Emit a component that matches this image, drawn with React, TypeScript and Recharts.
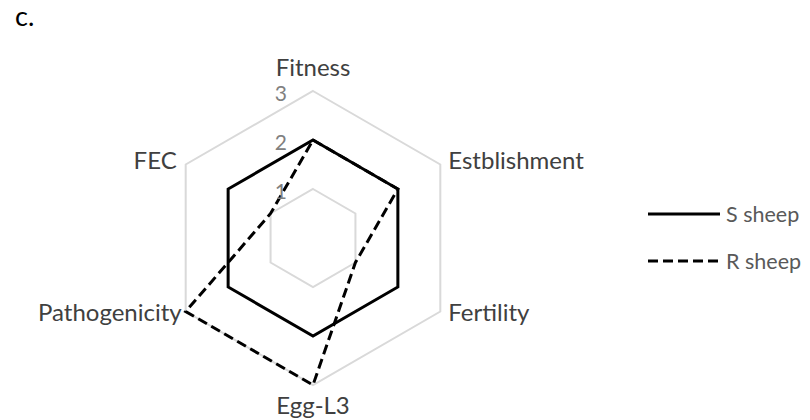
import { Legend, PolarAngleAxis, PolarGrid, PolarRadiusAxis, Radar, RadarChart } from 'recharts';

const traits = ['Fitness', 'Estblishment', 'Fertility', 'Egg-L3', 'Pathogenicity', 'FEC'];
const sSheep = [2, 2, 2, 2, 2, 2];
const rSheep = [2, 2, 1, 3, 3, 1];
const radiusTicks = [0, 1, 2, 3];

const data = traits.map((t, i) => ({ axis: t, S: sSheep[i], R: rSheep[i] }));

const CX = 305;
const CY = 230;
const R = 147;
const FONT = 'Lato, "Open Sans", sans-serif';
const FS = 24;

// label offsets from each hexagon corner
const labelPos: Record<string, { dx: number; dy: number; anchor: 'start' | 'middle' | 'end' }> = {
  Fitness: { dx: 0, dy: -15, anchor: 'middle' },
  Estblishment: { dx: 8, dy: 4, anchor: 'start' },
  Fertility: { dx: 8, dy: 9, anchor: 'start' },
  'Egg-L3': { dx: 0, dy: 29, anchor: 'middle' },
  Pathogenicity: { dx: -4, dy: 9, anchor: 'end' },
  FEC: { dx: -9, dy: 4, anchor: 'end' },
};

const AngleTick = (props: any) => {
  const { payload } = props;
  const a = (payload.coordinate * Math.PI) / 180;
  const vx = CX + R * Math.cos(a);
  const vy = CY - R * Math.sin(a);
  const p = labelPos[payload.value];
  return (
    <text x={vx + p.dx} y={vy + p.dy} textAnchor={p.anchor} fill="#404040" fontSize={FS} fontFamily={FONT}>
      {payload.value}
    </text>
  );
};

const RadiusTick = (props: any) => {
  const { x, y, payload } = props;
  if (payload.value === 0) return null;
  return (
    <text x={x - 26} y={y + 9.5} textAnchor="end" fill="#808080" fontSize={21} fontFamily={FONT}>
      {payload.value}
    </text>
  );
};

const legendItems = [
  { name: 'S sheep', dash: undefined },
  { name: 'R sheep', dash: '10 5' },
];

const LegendContent = () => (
  <svg width={158} height={80} style={{ overflow: 'visible' }}>
    {legendItems.map((it, i) => (
      <g key={it.name}>
        <line x1={0} x2={72} y1={10 + i * 47} y2={10 + i * 47} stroke="#000" strokeWidth={3} strokeDasharray={it.dash} />
        <text x={78} y={18 + i * 47} fill="#595959" fontSize={21.5} fontFamily={FONT}>
          {it.name}
        </text>
      </g>
    ))}
  </svg>
);

export default function App() {
  return (
    <div style={{ position: 'relative', width: 802, height: 410 }}>
      <div
        style={{
          position: 'absolute',
          left: 7,
          top: -6,
          fontFamily: FONT,
          fontSize: 27,
          lineHeight: 1,
          color: '#000',
        }}
      >
        c.
      </div>
      <RadarChart width={802} height={410} data={data} cx={CX} cy={CY} outerRadius={R} startAngle={90} endAngle={-270}>
        <PolarGrid gridType="polygon" radialLines={false} stroke="#d9d9d9" strokeWidth={2} />
        <PolarAngleAxis dataKey="axis" tick={AngleTick} tickLine={false} axisLine={false} />
        <PolarRadiusAxis angle={90} domain={[0, 3]} ticks={radiusTicks as any} tickCount={4} axisLine={false} tick={RadiusTick} />
        <Radar dataKey="S" name="S sheep" stroke="#000" strokeWidth={3} fill="none" dot={false} isAnimationActive={false} />
        <Radar
          dataKey="R"
          name="R sheep"
          stroke="#000"
          strokeWidth={3}
          strokeDasharray="10 5"
          fill="none"
          dot={false}
          isAnimationActive={false}
        />
        <Legend content={LegendContent} wrapperStyle={{ position: 'absolute', left: 640, top: 196, width: 158 }} />
      </RadarChart>
    </div>
  );
}
